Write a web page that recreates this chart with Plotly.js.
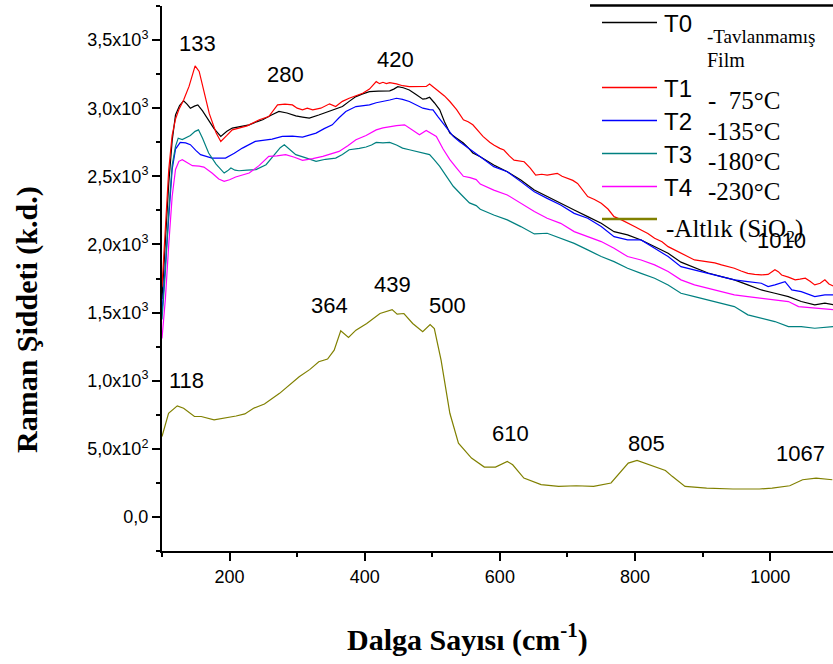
<!DOCTYPE html>
<html>
<head>
<meta charset="utf-8">
<script src="https://cdn.plot.ly/plotly-3.0.1.min.js"></script>
<style>html,body{margin:0;padding:0;background:#fff;}</style>
</head>
<body>
<div id="chart" style="width:833px;height:664px;"></div>
<script>
// ---- data ----
const t0X = [100,105,110,115,120,126,132,137,142,148,153,160,167,177,187,196,204,216,229,240,249,262,273,285,298,308,318,332,348,357,367,377,387,397,407,420,437,443,449,457,466,476,486,491,496,503,511,518,526,536,546,553,560,571,591,611,631,651,670,690,710,730,750,769,789,809,829,849,868,888,908,928,947,967,987,1007,1027,1046,1066,1081,1095];
const t0Y = [1600,2000,2450,2760,2950,3020,3054,3030,3000,3015,3024,2980,2927,2850,2793,2830,2854,2865,2878,2900,2915,2950,2976,2965,2944,2935,2927,2950,2976,2990,3012,3050,3085,3105,3122,3125,3127,3140,3158,3150,3134,3100,3066,3070,3080,3040,2988,2900,2817,2780,2744,2710,2671,2644,2583,2534,2473,2400,2351,2302,2253,2204,2155,2094,2070,2033,1984,1935,1870,1830,1790,1764,1740,1703,1666,1642,1617,1581,1556,1569,1556];

const t1X = [100,105,110,115,120,125,132,140,149,155,162,170,180,187,196,204,226,244,258,265,271,282,293,300,308,315,323,335,348,357,367,377,387,397,407,412,417,422,427,432,437,447,456,466,481,491,496,503,511,518,526,536,546,553,560,567,575,585,591,600,606,614,621,636,645,653,662,670,685,692,700,708,715,722,730,740,750,760,769,780,789,800,809,819,829,840,849,858,868,878,888,898,908,918,928,937,947,957,967,977,987,997,1007,1012,1017,1027,1037,1044,1052,1059,1066,1074,1081,1087,1095];
const t1Y = [1690,2150,2550,2800,2920,2990,3060,3160,3310,3270,3120,2960,2820,2756,2800,2841,2870,2915,2939,2990,3024,3030,3024,3000,2988,3000,2988,3000,3032,3012,3050,3073,3090,3110,3140,3170,3195,3180,3190,3180,3188,3178,3165,3158,3158,3160,3178,3150,3122,3090,3049,2990,2915,2900,2878,2840,2793,2750,2729,2705,2693,2650,2619,2607,2560,2509,2515,2509,2522,2500,2485,2470,2448,2400,2351,2330,2302,2260,2204,2180,2155,2130,2106,2080,2045,2020,1984,1960,1935,1910,1886,1880,1874,1865,1850,1840,1825,1805,1788,1780,1776,1780,1815,1800,1776,1760,1740,1745,1752,1730,1703,1715,1740,1710,1691];

const t2X = [100,105,110,115,120,127,135,142,150,157,174,194,207,219,238,253,263,278,293,308,318,328,340,352,362,372,387,397,407,417,427,437,447,456,466,476,486,496,501,508,516,523,531,540,550,562,571,591,611,631,651,670,690,710,730,750,769,789,809,829,849,868,888,908,928,947,967,987,997,1007,1022,1032,1046,1066,1081,1095];
const t2Y = [1500,1850,2250,2550,2700,2749,2745,2732,2690,2659,2634,2634,2670,2707,2756,2768,2773,2793,2795,2788,2800,2817,2850,2878,2930,2976,3012,3020,3024,3040,3049,3060,3073,3065,3049,3025,3000,2990,2988,2940,2890,2840,2793,2755,2720,2680,2644,2571,2534,2461,2387,2338,2290,2228,2192,2131,2057,2033,2033,1972,1911,1837,1813,1788,1764,1740,1727,1715,1691,1703,1727,1666,1654,1617,1630,1630];

const t3X = [100,105,110,115,120,124,130,137,142,149,154,160,169,180,192,197,202,208,214,226,239,254,268,275,281,290,298,313,328,342,357,367,377,392,402,410,417,427,437,447,456,466,476,486,496,503,511,521,531,543,555,565,571,591,611,631,651,670,690,710,730,750,769,789,809,829,849,868,888,908,928,947,967,987,1007,1027,1046,1066,1095];
const t3Y = [1450,1800,2250,2580,2720,2780,2770,2786,2800,2830,2841,2780,2671,2590,2524,2540,2561,2545,2541,2545,2549,2585,2671,2710,2732,2690,2659,2635,2610,2625,2634,2660,2695,2705,2715,2730,2749,2745,2749,2730,2707,2695,2683,2670,2659,2620,2573,2500,2427,2365,2305,2285,2258,2216,2180,2131,2077,2082,2045,2008,1960,1911,1874,1825,1788,1752,1703,1642,1617,1593,1569,1544,1483,1459,1434,1397,1397,1385,1397];

const t4X = [100,105,110,115,120,125,130,137,145,155,162,174,184,192,200,209,229,244,258,270,283,296,308,323,338,350,362,375,387,402,417,427,437,447,459,470,481,491,498,506,516,526,536,546,556,565,571,591,611,631,651,670,690,710,730,750,769,789,809,829,849,868,888,908,928,947,967,987,1007,1027,1042,1066,1095];
const t4Y = [1310,1600,2000,2350,2550,2610,2622,2600,2578,2575,2568,2524,2480,2463,2475,2495,2524,2580,2646,2650,2659,2640,2617,2630,2646,2665,2683,2725,2768,2800,2841,2855,2866,2872,2878,2840,2805,2837,2815,2793,2700,2622,2560,2500,2490,2476,2443,2399,2363,2302,2241,2192,2155,2094,2057,2021,1972,1911,1886,1850,1801,1740,1703,1679,1654,1630,1617,1605,1593,1581,1544,1532,1520];

const sioX = [100,109.7,122.6,132,148,158,177,193.5,209.7,222.6,235.5,251.6,274,303,319,332,345,354.8,364.5,376,387,403,422.6,440.6,448,458,471,485.8,496.8,503,513,526,538.7,558,577,593.5,611,619,635.5,661,687,713,738.7,764.5,777.4,790,803,822.6,845,855,874,906,945,984,1003,1029,1048,1068,1092];
const sioY = [590,761,815,798,737,737,712,724,741,756,798,829,907,1029,1083,1139,1159,1224,1366,1317,1371,1420,1493,1522,1488,1493,1420,1359,1412,1383,1151,761,541,432,366,366,407,383,285,237,224,229,224,249,322,395,415,383,341,298,224,212,205,205,212,229,273,285,273];

const seriesNames = ['T0','T1','T2','T3','T4','-Altlık (SiO<sub>2</sub>)'];
const seriesColors = ['#000000','#ff0000','#0000ff','#008080','#ff00ff','#808000'];
const legendDesc = ['-Tavlanmamış','Film','-\u00a0\u00a075°C','-135°C','-180°C','-230°C'];

const peakLabels = ['133','280','420','364','439','500','118','610','805','1067','1010'];
const peakX = [152,283,446,348,441,523,136,616,817,1045,1017];
const peakY = [3475,3244,3354,1554,1704,1554,1005,610,541,463,2027];

const yTickVals = [0,500,1000,1500,2000,2500,3000,3500];
const yTickText = ['0,0','5,0x10<sup>2</sup>','1,0x10<sup>3</sup>','1,5x10<sup>3</sup>','2,0x10<sup>3</sup>','2,5x10<sup>3</sup>','3,0x10<sup>3</sup>','3,5x10<sup>3</sup>'];

// ---- build ----
const xs = [t0X,t1X,t2X,t3X,t4X,sioX];
const ys = [t0Y,t1Y,t2Y,t3Y,t4Y,sioY];
const traces = xs.map((x,i)=>({
  x: x, y: ys[i], type:'scatter', mode:'lines', name: seriesNames[i],
  line:{color: seriesColors[i], width:1.2}, showlegend:false, hoverinfo:'skip'
}));

const L = 162, T = 6, R = 833, B = 551;
const px = v => (v - L) / (R - L);
const py = v => (B - v) / (B - T);

const sans = 'Liberation Sans, Arial, sans-serif';
const serif = 'Liberation Serif, Times New Roman, serif';

const annotations = [];
peakLabels.forEach((t,i)=>annotations.push({
  x: peakX[i], y: peakY[i], xref:'x', yref:'y', text: t, showarrow:false,
  font:{family:sans, size:22, color:'#000'}, xanchor:'center', yanchor:'middle'
}));

// legend
const legY = [22.5, 87.5, 120.5, 153.5, 186.5, 219];
const shapes = [];
legY.forEach((yy,i)=>{
  shapes.push({type:'line', xref:'paper', yref:'paper', x0:px(602), x1:px(657), y0:py(yy), y1:py(yy),
    line:{color: seriesColors[i], width: i===5 ? 2.5 : 1.3}});
});
for (let i=0;i<5;i++) {
  annotations.push({xref:'paper', yref:'paper', x:px(662), y:py(legY[i]+1), text: seriesNames[i],
    showarrow:false, xanchor:'left', yanchor:'middle', font:{family:sans, size:24, color:'#000'}});
}
annotations.push({xref:'paper', yref:'paper', x:px(664), y:py(230), text: seriesNames[5],
  showarrow:false, xanchor:'left', yanchor:'middle', font:{family:serif, size:25, color:'#000'}});
annotations.push({xref:'paper', yref:'paper', x:px(705), y:py(36), text: legendDesc[0],
  showarrow:false, xanchor:'left', yanchor:'middle', font:{family:serif, size:19, color:'#000'}});
annotations.push({xref:'paper', yref:'paper', x:px(705), y:py(60), text: legendDesc[1],
  showarrow:false, xanchor:'left', yanchor:'middle', font:{family:serif, size:20, color:'#000'}});
const descY = [100, 131.5, 161.5, 191.5];
for (let i=0;i<4;i++) {
  annotations.push({xref:'paper', yref:'paper', x:px(706), y:py(descY[i]), text: legendDesc[i+2],
    showarrow:false, xanchor:'left', yanchor:'middle', font:{family:serif, size:25, color:'#000'}});
}
// top border segment
shapes.push({type:'line', xref:'paper', yref:'paper', x0:px(590), x1:1, y0:py(5.5), y1:py(5.5), line:{color:'#000', width:2.5}});

// axis titles
annotations.push({xref:'paper', yref:'paper', x:px(27), y:py(320), text:'Raman Şiddeti (k.d.)', textangle:-90,
  showarrow:false, xanchor:'center', yanchor:'middle', font:{family:serif, size:30, color:'#000', weight:700}});
annotations.push({xref:'paper', yref:'paper', x:px(467), y:py(637), text:'Dalga Sayısı (cm<sup>-1</sup>)',
  showarrow:false, xanchor:'center', yanchor:'middle', font:{family:serif, size:30, color:'#000', weight:700}});

const layout = {
  width: 833, height: 664,
  margin: {l: L, r: 833 - R, t: T, b: 664 - B, pad: 0},
  paper_bgcolor:'#fff', plot_bgcolor:'#fff',
  showlegend:false,
  xaxis: {
    range:[100,1093], showgrid:false, zeroline:false, showline:true, linecolor:'#000', linewidth:2,
    ticks:'outside', ticklen:8, tickwidth:2, tickcolor:'#000', tick0:0, dtick:200,
    minor:{dtick:100, ticks:'outside', ticklen:4, tickwidth:2, tickcolor:'#000'},
    tickfont:{family:sans, size:18, color:'#000'}
  },
  yaxis: {
    range:[-250,3750], showgrid:false, zeroline:false, showline:true, linecolor:'#000', linewidth:2,
    ticks:'outside', ticklen:8, tickwidth:2, tickcolor:'#000',
    tickmode:'array', tickvals:yTickVals, ticktext:yTickText,
    minor:{tickmode:'linear', tick0:0, dtick:250, ticks:'outside', ticklen:4, tickwidth:2, tickcolor:'#000'},
    tickfont:{family:sans, size:18, color:'#000'}
  },
  shapes: shapes,
  annotations: annotations
};

Plotly.newPlot('chart', traces, layout, {displayModeBar:false, staticPlot:true});
</script>
</body>
</html>
